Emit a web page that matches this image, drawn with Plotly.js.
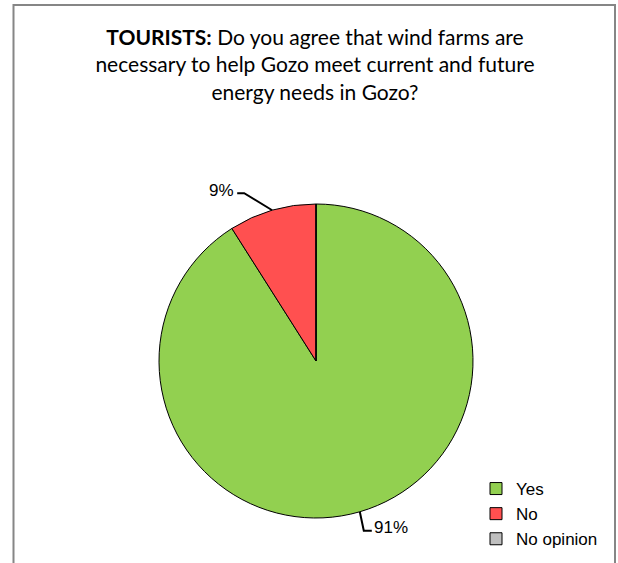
<!DOCTYPE html>
<html>
<head>
<meta charset="utf-8">
<script src="https://cdn.plot.ly/plotly-3.0.1.min.js"></script>
<style>
  html, body { margin: 0; padding: 0; background: #ffffff; }
  #chart { width: 618px; height: 563px; }
</style>
</head>
<body>
<div id="chart"></div>
<script>
// ---- data ----
const labels = ["Yes", "No", "No opinion"];
const values = [91, 9, 0];
const colors = ["#92D050", "#FF5050", "#BFBFBF"];
const pctLabels = ["91%", "9%", ""];

// ---- layout settings ----
const W = 618, H = 563;
const pieCx = 316, pieCy = 361, pieR = 157;
const domX = [(pieCx - pieR) / W, (pieCx + pieR) / W];
const domY = [1 - (pieCy + pieR) / H, 1 - (pieCy - pieR) / H];
// elbow offset and tail for each label (pixels), styling only
const labelElbow = [[4, 19], [-28, -17], [0, 0]];
const labelTail = [8, -7, 0];

function px(x) { return x / W; }
function py(y) { return 1 - y / H; }

// compute leader lines / label positions from data (clockwise from 12 o'clock)
const total = values.reduce((a, b) => a + b, 0);
const shapes = [];
const annotations = [];
let cum = 0;
values.forEach((v, i) => {
  const mid = (cum + v / 2) / total;
  cum += v;
  if (v <= 0 || !pctLabels[i]) return;
  const ang = mid * 2 * Math.PI;
  const rx = pieCx + pieR * Math.sin(ang);
  const ry = pieCy - pieR * Math.cos(ang);
  const ex = rx + labelElbow[i][0];
  const ey = ry + labelElbow[i][1];
  const tx = ex + labelTail[i];
  shapes.push({
    type: "path", xref: "paper", yref: "paper",
    path: `M ${px(rx)} ${py(ry)} L ${px(ex)} ${py(ey)} L ${px(tx)} ${py(ey)}`,
    line: { color: "#000000", width: 2 }
  });
  const right = labelTail[i] > 0;
  annotations.push({
    xref: "paper", yref: "paper",
    x: px(tx + (right ? 0 : -1)), y: py(ey - 3),
    xanchor: right ? "left" : "right", yanchor: "middle",
    text: pctLabels[i], showarrow: false,
    font: { family: "Liberation Sans, Arial, sans-serif", size: 17, color: "#000000" }
  });
});

// chart frame
shapes.push({
  type: "rect", xref: "paper", yref: "paper",
  x0: px(13.5), x1: px(615), y0: py(570), y1: py(5),
  line: { color: "#868686", width: 2 }
});

const trace = {
  type: "pie",
  labels: labels,
  values: values,
  sort: false,
  direction: "clockwise",
  rotation: 0,
  textinfo: "none",
  hoverinfo: "label+percent",
  marker: { colors: colors, line: { color: "#000000", width: 1 } },
  domain: { x: domX, y: domY }
};

const layout = {
  width: W, height: H,
  margin: { l: 0, r: 0, t: 0, b: 0 },
  paper_bgcolor: "#ffffff",
  title: {
    text: "<b>TOURISTS:</b> Do you agree that wind farms are<br>necessary to help Gozo meet current and future<br>energy needs in Gozo?",
    font: { family: "Lato, Carlito, Calibri, sans-serif", size: 21, color: "#000000" },
    x: 315 / W, xref: "container", xanchor: "center",
    y: 1 - 45 / H, yref: "container", yanchor: "top"
  },
  showlegend: true,
  legend: {
    x: px(476), y: py(514), xanchor: "left", yanchor: "middle",
    font: { family: "Liberation Sans, Arial, sans-serif", size: 17, color: "#000000" },
    bgcolor: "rgba(0,0,0,0)"
  },
  shapes: shapes,
  annotations: annotations
};

Plotly.newPlot("chart", [trace], layout, { displayModeBar: false, staticPlot: true });
</script>
</body>
</html>
